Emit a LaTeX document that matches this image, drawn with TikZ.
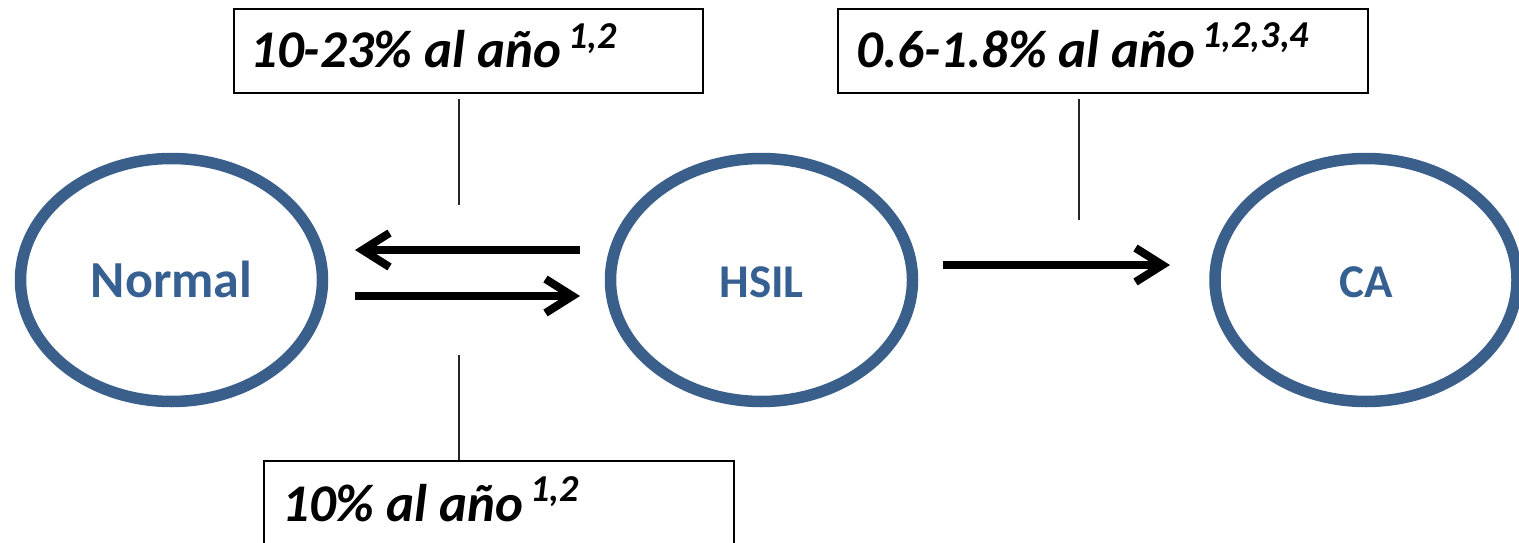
\documentclass[tikz,border=0pt]{standalone}
\usepackage{fontspec}
\setmainfont{Carlito}
\usetikzlibrary{shapes.geometric,arrows.meta}
\definecolor{stateblue}{HTML}{3A5F8B}
\definecolor{statetext}{HTML}{376092}
\newcommand{\rate}[2]{{\fontsize{53}{60}\selectfont\bfseries\itshape #1\hspace{7pt}\raisebox{20pt}{\fontsize{38}{42}\selectfont #2}}}
\tikzset{
  state/.style={ellipse, draw=stateblue, line width=11.5pt, inner sep=0pt,
    minimum width=302pt, minimum height=243pt, text=statetext,
    text height=35pt, text depth=0pt,
    font=\fontsize{47}{52}\selectfont\bfseries},
  ratebox/.style={draw=black, line width=2pt, inner sep=0pt, anchor=north west},
  ratetext/.style={anchor=base west, inner sep=0pt},
  flow/.style={line width=8pt, -{Straight Barb[length=27pt, width=34pt]}},
  tick/.style={line width=2pt, draw=black!85}
}
\begin{document}
\begin{tikzpicture}[x=1pt, y=-1pt]
  \useasboundingbox (0,0) rectangle (1519,543);
  % states
  \node[state, font=\fontsize{52}{58}\selectfont\bfseries] (normal) at (171.5,280) {Normal};
  \node[state] (hsil) at (761.5,280) {HSIL};
  \node[state] (ca) at (1366,280) {CA};
  % transitions
  \coordinate (back-from) at (580,250);
  \coordinate (back-to) at (355,250);
  \coordinate (fwd-from) at (355,296);
  \coordinate (fwd-to) at (580,296);
  \coordinate (inv-from) at (943,265);
  \coordinate (inv-to) at (1170,265);
  \draw[flow] (back-from) -- (back-to);
  \draw[flow] (fwd-from) -- (fwd-to);
  \draw[flow] (inv-from) -- (inv-to);
  % rate boxes
  \node[ratebox, minimum width=469pt, minimum height=84pt] (regbox) at (233,8) {};
  \node[ratetext] (regtext) at (250,68) {\rate{10-23\% al año}{1,2}};
  \node[ratebox, minimum width=530pt, minimum height=84pt] (invbox) at (837,8) {};
  \node[ratetext] (invtext) at (856,67) {\rate{0.6-1.8\% al año}{1,2,3,4}};
  \node[ratebox, minimum width=470pt, minimum height=120pt] (progbox) at (263,460) {};
  \node[ratetext] (progtext) at (282,521) {\rate{10\% al año}{1,2}};
  % leader lines
  \coordinate (reg-top) at (459,99);
  \coordinate (reg-bot) at (459,205);
  \coordinate (inv-top) at (1079,99);
  \coordinate (inv-bot) at (1079,220);
  \coordinate (prog-top) at (459,355);
  \draw[tick] (reg-top) -- (reg-bot);
  \draw[tick] (inv-top) -- (inv-bot);
  \draw[tick] (prog-top) -- (prog-top |- progbox.north);
\end{tikzpicture}
\end{document}
